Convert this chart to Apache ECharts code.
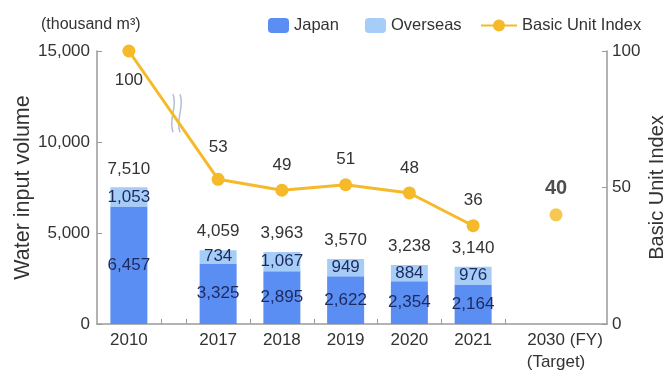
<!DOCTYPE html>
<html>
<head>
<meta charset="utf-8">
<script src="https://cdn.jsdelivr.net/npm/echarts@6/dist/echarts.min.js"></script>
<style>
  html, body { margin: 0; padding: 0; background: #fff; }
  #chart { width: 664px; height: 374px; }
</style>
</head>
<body>
<div id="chart"></div>
<script>
// Fiscal years and water input volume (thousand m3)
const categories = ['2010', '2017', '2018', '2019', '2020', '2021', '2030'];
const japan      = [6457, 3325, 2895, 2622, 2354, 2164];
const overseas   = [1053, 734, 1067, 949, 884, 976];
const totals     = [7510, 4059, 3963, 3570, 3238, 3140];
// Basic unit index (FY2010 = 100) and the FY2030 target
const unitIndex  = [100, 53, 49, 51, 48, 36];
const targetIndex = 40;

// Horizontal layout: each year occupies one slot on a 0..8 scale;
// a short gap separates 2010 from 2017, and 2030 sits in a wider slot.
const slotCenter = [0.5, 1.9, 2.9, 3.9, 4.9, 5.9, 7.2];
const slotEdges  = [1, 1.4, 2.4, 3.4, 4.4, 5.4, 6.4];

const FONT = '"Liberation Sans", Arial, sans-serif';
const TEXT = '#333';
const NAVY = '#1c2a5e';
const GREY = '#9a9a9a';

const fmt = v => v.toLocaleString('en-US');
// Bars keep the value in the first column so the stack accumulates on it
const barData = arr => arr.map((v, i) => [v, slotCenter[i]]);
const pointData = arr => arr.map((v, i) => [slotCenter[i], v]);

const chart = echarts.init(document.getElementById('chart'), null, { renderer: 'canvas' });

const barBase = {
  type: 'bar',
  stack: 'water',
  barWidth: 37,
  encode: { x: 1, y: 0 }
};

const option = {
  animation: false,
  textStyle: { fontFamily: FONT, color: TEXT },
  title: {
    text: '(thousand m³)',
    left: 36, top: 12,
    textStyle: { fontFamily: FONT, fontSize: 16, fontWeight: 'normal', color: TEXT }
  },
  legend: [
    {
      left: 263, top: 12,
      itemWidth: 21, itemHeight: 15, itemGap: 26,
      data: ['Japan', 'Overseas'],
      textStyle: { fontFamily: FONT, fontSize: 16.5, color: TEXT }
    },
    {
      left: 475, top: 12,
      itemWidth: 36, itemHeight: 15,
      data: ['Basic Unit Index'],
      textStyle: { fontFamily: FONT, fontSize: 16.5, color: TEXT }
    }
  ],
  grid: { left: 97, right: 57, top: 51, bottom: 50, outerBoundsMode: 'none' },
  xAxis: {
    type: 'value',
    min: 0, max: 8,
    axisLine: { show: true, lineStyle: { color: GREY, width: 1.5 } },
    axisTick: { show: true, inside: true, length: 5, customValues: slotEdges, lineStyle: { color: GREY } },
    axisLabel: {
      customValues: slotCenter,
      margin: 5,
      fontFamily: FONT, fontSize: 17, color: TEXT,
      lineHeight: 22,
      formatter: v => {
        const label = categories[slotCenter.indexOf(v)] || '';
        return label === '2030' ? '{y|' + label + ' (FY)}\n{t|(Target)}' : label;
      },
      rich: {
        y: { fontFamily: FONT, fontSize: 17, color: TEXT, padding: [0, 0, 0, 18], lineHeight: 22 },
        t: { fontFamily: FONT, fontSize: 17, color: TEXT, lineHeight: 22 }
      }
    },
    splitLine: { show: false }
  },
  yAxis: [
    {
      type: 'value',
      min: 0, max: 15000, interval: 5000,
      name: 'Water input volume',
      nameLocation: 'middle',
      nameGap: 63,
      nameMoveOverlap: false,
      nameTextStyle: { fontFamily: FONT, fontSize: 21.5, color: TEXT },
      axisLine: { show: true, lineStyle: { color: GREY, width: 1.5 } },
      axisTick: { show: true, inside: true, length: 5, lineStyle: { color: GREY } },
      axisLabel: { margin: 7, fontFamily: FONT, fontSize: 17, color: TEXT, formatter: v => fmt(v) },
      splitLine: { show: false }
    },
    {
      type: 'value',
      min: 0, max: 100, interval: 50,
      name: 'Basic Unit Index',
      nameLocation: 'middle',
      nameGap: 40,
      nameRotate: 90,
      nameMoveOverlap: false,
      nameTextStyle: { fontFamily: FONT, fontSize: 20, color: TEXT },
      axisLine: { show: true, lineStyle: { color: GREY, width: 1.5 } },
      axisTick: { show: true, inside: true, length: 5, lineStyle: { color: GREY } },
      axisLabel: { margin: 5, fontFamily: FONT, fontSize: 17, color: TEXT },
      splitLine: { show: false }
    }
  ],
  series: [
    Object.assign({}, barBase, {
      name: 'Japan',
      itemStyle: { color: '#5b8ef2' },
      label: {
        show: true, position: 'inside',
        fontFamily: FONT, fontSize: 17, color: NAVY,
        formatter: p => fmt(p.value[0])
      },
      data: barData(japan)
    }),
    Object.assign({}, barBase, {
      name: 'Overseas',
      itemStyle: { color: '#a6cdf7' },
      label: {
        show: true, position: 'inside',
        fontFamily: FONT, fontSize: 17, color: NAVY,
        formatter: p => fmt(p.value[0])
      },
      data: barData(overseas)
    }),
    Object.assign({}, barBase, {
      // Zero-height cap carrying the total printed above each stack
      name: 'Total',
      itemStyle: { color: 'transparent' },
      label: {
        show: true, position: 'insideBottom', distance: 10,
        fontFamily: FONT, fontSize: 17, color: TEXT,
        formatter: p => fmt(totals[p.dataIndex])
      },
      data: barData(totals.map(() => 0))
    }),
    {
      name: 'Basic Unit Index',
      type: 'line',
      yAxisIndex: 1,
      symbol: 'circle',
      symbolSize: 13,
      lineStyle: { color: '#f5b929', width: 3 },
      itemStyle: { color: '#f5b929' },
      label: {
        show: true, position: 'top', distance: 10,
        fontFamily: FONT, fontSize: 17, color: TEXT
      },
      data: pointData(unitIndex).map((d, i) => {
        const item = { value: d };
        if (i === 0) item.label = { position: 'bottom', distance: 14 };
        if (i === 1) item.label = { distance: 17 };
        return item;
      })
    },
    {
      name: 'Target',
      type: 'scatter',
      yAxisIndex: 1,
      symbol: 'circle',
      symbolSize: 13,
      itemStyle: { color: '#f5b929' },
      label: {
        show: true, position: 'top', distance: 10,
        fontFamily: FONT, fontSize: 20, fontWeight: 'bold', color: '#222'
      },
      data: [[slotCenter[6], targetIndex]]
    }
  ]
};

chart.setOption(option);

// Break marker on the index line between FY2010 and FY2017
const mid = chart.convertToPixel({ xAxisIndex: 0, yAxisIndex: 1 },
  [(slotCenter[0] + slotCenter[1]) / 2, (unitIndex[0] + unitIndex[1]) / 2]);
const wave = (dx) => ({
  type: 'bezierCurve',
  shape: { x1: dx, y1: -19, x2: dx, y2: 19, cpx1: dx + 5, cpy1: -6, cpx2: dx - 5, cpy2: 6 },
  style: { stroke: '#b3bfd4', lineWidth: 1.5, fill: null }
});
chart.setOption({
  graphic: [{
    type: 'group',
    x: mid[0] + 3, y: mid[1] - 2,
    z: 100,
    children: [
      { type: 'rect', shape: { x: -3, y: -8, width: 6, height: 16 }, style: { fill: '#fff' } },
      wave(-3.5),
      wave(3.5)
    ]
  }]
});
</script>
</body>
</html>
